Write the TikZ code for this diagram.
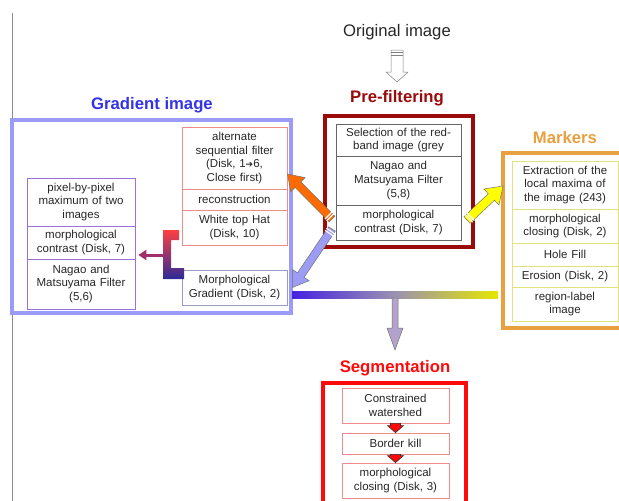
\documentclass[tikz,border=0pt]{standalone}
\usepackage{fontspec}
\setmainfont{Liberation Sans}
\newfontfamily\symfont{DejaVu Sans}
\usetikzlibrary{calc,arrows.meta}
\definecolor{prered}{HTML}{9B0A0A}
\definecolor{markorange}{HTML}{E8A040}
\definecolor{markyellow}{HTML}{E2E27A}
\definecolor{gradline}{HTML}{9B9BFA}
\definecolor{gradtitle}{HTML}{3333E6}
\definecolor{pinkline}{HTML}{F08C8C}
\definecolor{purpline}{HTML}{9E6FD6}
\definecolor{morphline}{HTML}{9A9AC4}
\definecolor{segred}{HTML}{FF0A0A}
\definecolor{arrorange}{HTML}{FF6A00}
\definecolor{arrblue}{HTML}{9C9CF5}
\definecolor{arryellow}{HTML}{FFFF00}
\definecolor{bracketred}{HTML}{FF4040}
\definecolor{bracketblue}{HTML}{2B2B99}
\definecolor{linkmaroon}{HTML}{A0306A}
\definecolor{barblue}{HTML}{4422E0}
\definecolor{barmid}{HTML}{9A92B0}
\definecolor{baryellow}{HTML}{E6E600}
\definecolor{downlilac}{HTML}{B3A3CC}
\definecolor{celltext}{HTML}{262626}

\tikzset{
  txt/.style={font=\fontsize{11.5}{13.6}\selectfont, text=celltext, align=center, inner sep=2pt},
  headtxt/.style={font=\fontsize{16.7}{20}\selectfont\bfseries},
  cell/.style={txt, draw=#1, line width=0.8pt},
  outerbox/.style={draw=#1, line width=4pt},
  arrowline/.style={fill=#1, draw=black!55, line width=0.5pt},
  linkarrow/.style={draw=linkmaroon, line width=3pt, -{Triangle[length=8pt,width=10pt]}},
}

% block arrow: style, from, to, half shaft, half head, head length
\newcommand{\blockarrow}[6]{%
  \coordinate (hb) at ($(#3)!#6!(#2)$);
  \filldraw[#1] ($(#2)!#4!90:(#3)$) -- ($(hb)!#4!90:(#3)$) -- ($(hb)!#5!90:(#3)$) -- (#3)
    -- ($(hb)!#5!-90:(#3)$) -- ($(hb)!#4!-90:(#3)$) -- ($(#2)!#4!-90:(#3)$) -- cycle;}
% stripes near the tail of a block arrow
\newcommand{\tailmarks}[4]{%
  \foreach \d in {2.5,5} {
    \coordinate (tm) at ($(#2)!\d pt!(#3)$);
    \draw[#1] ($(tm)!#4!90:(#3)$) -- ($(tm)!#4!-90:(#3)$);
  }}

\begin{document}
\begin{tikzpicture}[x=1pt,y=-1pt]
\useasboundingbox (0,0) rectangle (619,501);
\draw[black!45, line width=0.7pt] (12,13) -- (12,501);

% titles
\node[font=\fontsize{16.7}{20}\selectfont, text=celltext] (orig) at (397,32) {Original image};
\node[headtxt, text=prered] (pretitle) at (397,98) {Pre-filtering};
\node[headtxt, text=markorange] (marktitle) at (565,138) {Markers};
\node[headtxt, text=gradtitle] (gradtitle) at (152,105) {Gradient image};
\node[headtxt, text=segred] (segtitle) at (395,368) {Segmentation};

% Pre-filtering
\node[outerbox=prered, minimum width=148, minimum height=131] (pre) at (399,181.5) {};
\node[cell=black!60, text width=121, minimum height=32] (redband) at (398.5,140) {Selection of the red-\\band image (grey};
\node[cell=black!60, text width=121, minimum height=49] (nagao) at (398.5,180.5) {Nagao and\\Matsuyama Filter\\(5,8)};
\node[cell=black!60, text width=121, minimum height=35] (mcontrast) at (398.5,222.5) {morphological\\contrast (Disk, 7)};

% Markers
\node[outerbox=markorange, minimum width=132, minimum height=175] (mark) at (569,240.5) {};
\node[cell=markyellow, text width=102, minimum height=48] (maxima) at (565,185) {Extraction of the\\local maxima of\\the image (243)};
\node[cell=markyellow, text width=102, minimum height=34] (mclose) at (565,226) {morphological\\closing (Disk, 2)};
\node[cell=markyellow, text width=102, minimum height=23] (hole) at (565,254.5) {Hole Fill};
\node[cell=markyellow, text width=102, minimum height=21] (erosion) at (565,276.5) {Erosion (Disk, 2)};
\node[cell=markyellow, text width=102, minimum height=34] (rlabel) at (565,304) {region-label\\image};

% Gradient image
\node[outerbox=gradline, minimum width=279, minimum height=193] (grad) at (151.5,216.5) {};
\node[cell=pinkline, text width=101, minimum height=62] (asf) at (234.5,158) {alternate\\sequential filter\\(Disk, 1{\symfont\fontsize{9}{10}\selectfont ➔}6,\\Close first)};
\node[cell=pinkline, text width=101, minimum height=21] (recon) at (234.5,199.5) {reconstruction};
\node[cell=pinkline, text width=101, minimum height=35] (tophat) at (234.5,227.5) {White top Hat\\(Disk, 10)};
\node[cell=morphline, text width=101, minimum height=35] (mgrad) at (234.5,287.5) {Morphological\\Gradient (Disk, 2)};
\node[cell=purpline, text width=104, minimum height=48] (pmax) at (81,202) {pixel-by-pixel\\maximum of two\\images};
\node[cell=purpline, text width=104, minimum height=33] (lmc) at (81,242.5) {morphological\\contrast (Disk, 7)};
\node[cell=purpline, text width=104, minimum height=50] (lnagao) at (81,284) {Nagao and\\Matsuyama Filter\\(5,6)};

% Segmentation
\node[outerbox=segred, minimum width=143, minimum height=140] (seg) at (394.5,453) {};
\node[cell=pinkline, text width=103, minimum height=35] (wshed) at (395.5,405.5) {Constrained\\watershed};
\node[cell=pinkline, text width=103, minimum height=21] (bkill) at (395.5,443.5) {Border kill};
\node[cell=pinkline, text width=103, minimum height=35] (sclose) at (395.5,480.5) {morphological\\closing (Disk, 3)};

% arrow ends
\coordinate (hTail) at (397,50);
\coordinate (hTip) at (397,82);
\coordinate (oTail) at (332,219);
\coordinate (oTip) at ($(asf.east)+(0,16)$);
\coordinate (bTail) at (332,229);
\coordinate (bTip) at ($(mgrad.east)+(5,0)$);
\coordinate (yTail) at (467,220);
\coordinate (yTip) at ($(mark.west)+(2,-54.5)$);
\coordinate (brk) at (163,255);
\coordinate (lTip) at ($(lmc.east)+(3,12.5)$);
\coordinate (sTip) at (395,350);

% arrows
\blockarrow{arrowline=white, draw=black!50}{hTail}{hTip}{6pt}{11pt}{10pt}
\tailmarks{black!50, line width=0.5pt}{hTail}{hTip}{6pt}
\blockarrow{arrowline=arrorange}{oTail}{oTip}{4pt}{10pt}{15pt}
\tailmarks{white, line width=1.2pt}{oTail}{oTip}{5pt}
\blockarrow{arrowline=arrblue}{bTail}{bTip}{4pt}{10pt}{15pt}
\tailmarks{white, line width=1.2pt}{bTail}{bTip}{5pt}
\blockarrow{arrowline=arryellow}{yTail}{yTip}{4.5pt}{11pt}{16pt}
\tailmarks{white, line width=1.2pt}{yTail}{yTip}{5.5pt}

% bracket from top hat / gradient to the left column
\shade[top color=bracketred, bottom color=bracketblue] (179,230) -- (163,230) -- (163,279) -- (184,279)
  -- (184,268) -- (171,268) -- (171,240) -- (179,240) -- cycle;
\draw[linkarrow] (brk) -- (lTip);

% bar joining gradient and markers
\node[minimum width=206, minimum height=7, inner sep=0, left color=barblue, right color=baryellow, middle color=barmid] (gbar) at (395,294.5) {};
\blockarrow{arrowline=downlilac}{gbar.south}{sTip}{3pt}{8pt}{22pt}

% segmentation steps
\blockarrow{fill=segred, draw=black!80, line width=0.6pt}{wshed.south}{bkill.north}{5pt}{8pt}{7pt}
\blockarrow{fill=segred, draw=black!80, line width=0.6pt}{bkill.south}{sclose.north}{5pt}{8pt}{7pt}
\end{tikzpicture}
\end{document}
